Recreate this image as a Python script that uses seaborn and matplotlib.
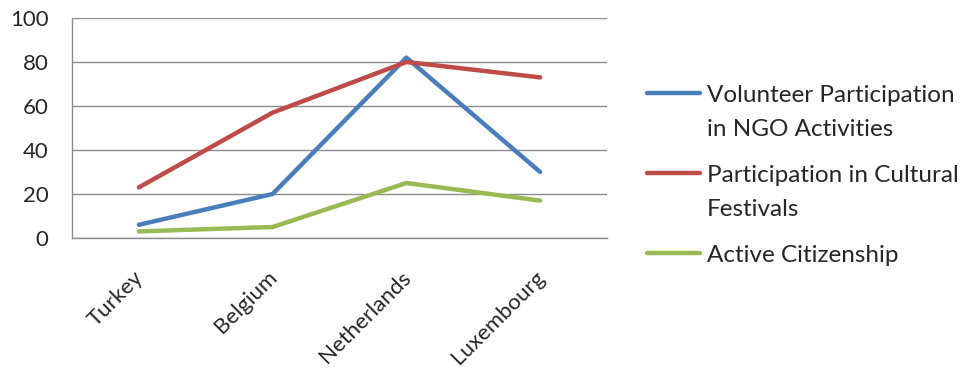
import textwrap
import matplotlib
matplotlib.use("Agg")
import matplotlib.pyplot as plt
import matplotlib.transforms as mtransforms
from matplotlib.lines import Line2D
import numpy as np
import pandas as pd
import seaborn as sns

# Data
countries = ["Turkey", "Belgium", "Netherlands", "Luxembourg"]
series_names = [
    "Volunteer Participation in NGO Activities",
    "Participation in Cultural Festivals",
    "Active Citizenship",
]
volunteer_ngo = [6, 20, 82, 30]
cultural_festivals = [23, 57, 80, 73]
active_citizenship = [3, 5, 25, 17]
y_ticks = [0, 20, 40, 60, 80, 100]
colors = ["#4A7EBB", "#BE4B48", "#98B954"]

values = [volunteer_ngo, cultural_festivals, active_citizenship]
df = pd.DataFrame(
    [(c, s, v) for s, vals in zip(series_names, values) for c, v in zip(countries, vals)],
    columns=["Country", "Series", "Value"],
)

sns.set_theme(style="white")
plt.rcParams["font.family"] = ["Lato", "DejaVu Sans"]

W, H, DPI = 964, 370, 100
fig = plt.figure(figsize=(W / DPI, H / DPI), dpi=DPI)
ax = fig.add_axes([72 / W, 1 - 238 / H, (607 - 72) / W, (238 - 18) / H])

sns.lineplot(
    data=df, x="Country", y="Value", hue="Series", hue_order=series_names,
    palette=colors, linewidth=3.2, sort=False, legend=False, ax=ax,
)

grid_c = "#8C8C8C"
text_c = "#262626"
ax.set_xlim(-0.5, len(countries) - 0.5)
ax.set_ylim(0, 100)
ax.set_yticks(y_ticks)
ax.set_yticklabels([str(t) for t in y_ticks], fontsize=16, color=text_c)
ax.yaxis.grid(True, color=grid_c, linewidth=1.0)
ax.set_axisbelow(True)
for side in ("top", "right"):
    ax.spines[side].set_visible(False)
for side in ("left", "bottom"):
    ax.spines[side].set_color(grid_c)
    ax.spines[side].set_linewidth(1.0)

ax.set_xticks(range(len(countries)))
ax.set_xticklabels(countries, rotation=45, ha="right", va="top", rotation_mode="anchor",
                   fontsize=16, color=text_c)
ax.set_xticks(np.arange(-0.5, len(countries)), minor=True)
ax.tick_params(axis="x", which="major", length=0, pad=21)
ax.tick_params(axis="x", which="minor", length=5, width=1.0, color=grid_c, direction="out")
ax.tick_params(axis="y", length=5, width=1.0, color=grid_c, direction="out", pad=12)
shift = mtransforms.ScaledTranslation(-6 / DPI, 0, fig.dpi_scale_trans)
for lbl in ax.get_xticklabels():
    lbl.set_transform(lbl.get_transform() + shift)
ax.set_xlabel("")
ax.set_ylabel("")

# Legend drawn beside the plot, marker aligned with the first text line
legend_rows = [93, 173, 253]
line_gap = 35
for name, col, yp in zip(series_names, colors, legend_rows):
    yf = 1 - yp / H
    fig.add_artist(Line2D([647 / W, 700 / W], [yf, yf], color=col, linewidth=3.2,
                          solid_capstyle="round", transform=fig.transFigure))
    for i, part in enumerate(textwrap.wrap(name, 25)):
        fig.text(707 / W, 1 - (yp + 8.5 + i * line_gap) / H, part, fontsize=17.5,
                 color=text_c, va="baseline")

fig.savefig("out.png", dpi=DPI, facecolor="white")
